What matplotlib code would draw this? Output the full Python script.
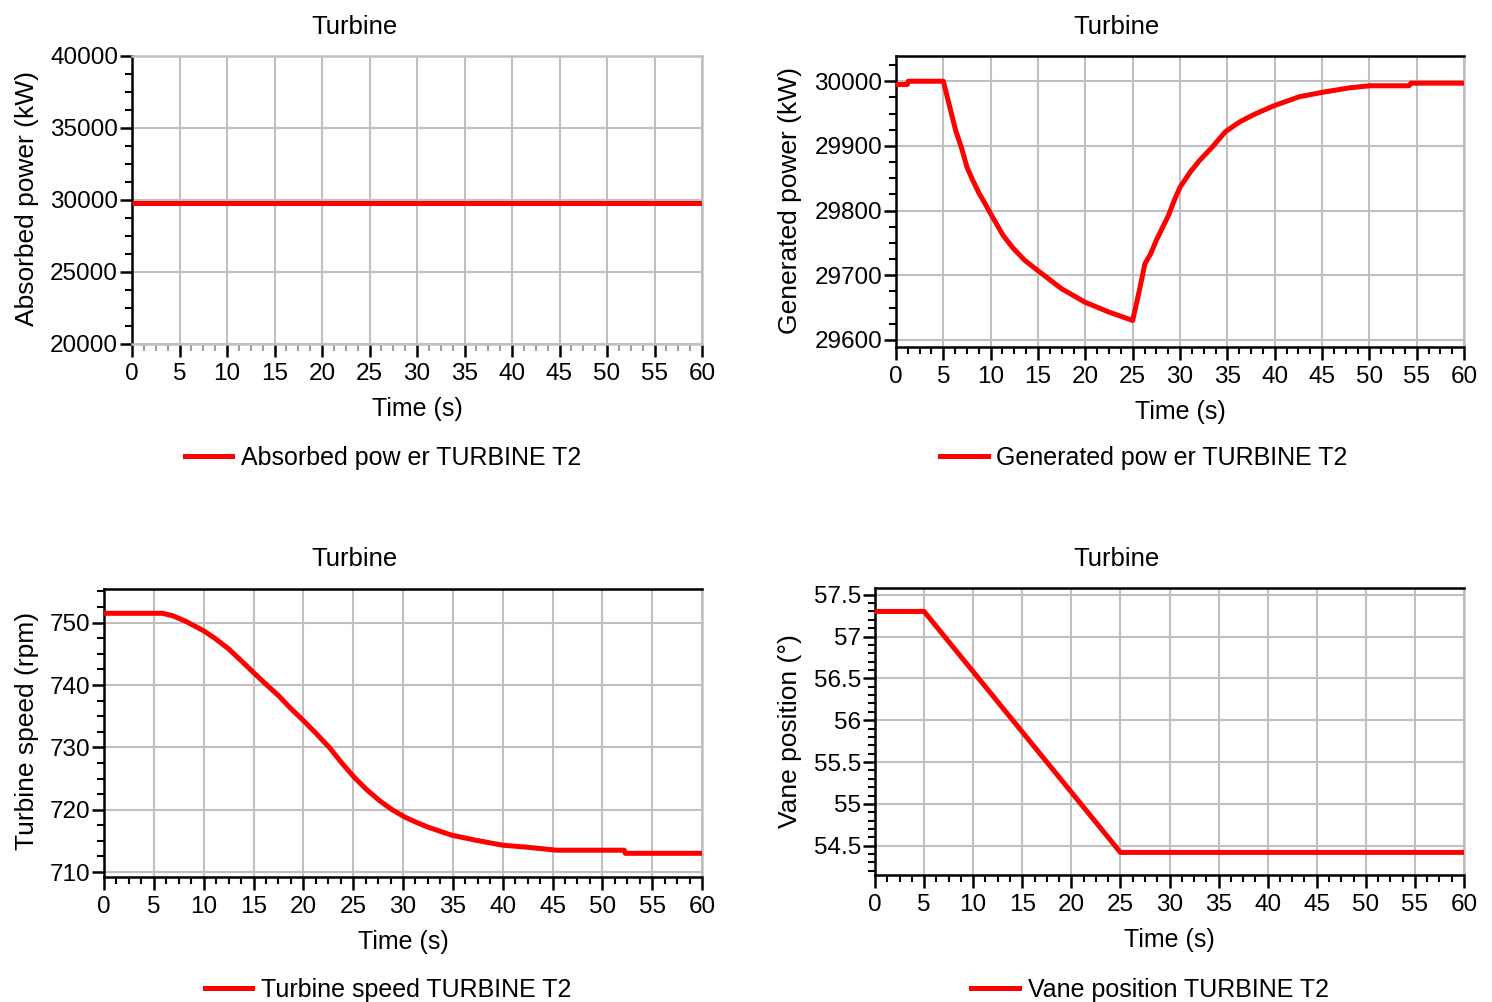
import matplotlib
matplotlib.use("Agg")
import matplotlib.pyplot as plt
from matplotlib.ticker import MultipleLocator, FixedLocator
from matplotlib.lines import Line2D

plt.rcParams['font.family'] = ['Liberation Sans', 'DejaVu Sans']

# ---------------- data ----------------
t_abs = [0, 60]
absorbed_kw = [29820, 29820]

t_gen = [0, 1.2, 1.3, 5.0, 5.6, 6.3, 6.9, 7.5, 8.1, 8.8, 9.4, 10.0, 11.3, 12.3, 13.6,
         15.0, 17.5, 20.0, 22.5, 25.0,
         25.7, 26.3, 26.9, 27.5, 28.2, 28.8, 29.4, 30.0, 31.1, 32.1, 33.4, 34.8, 36.3,
         37.6, 38.8, 40.1, 42.6, 45.1, 48.0, 50.1, 54.2, 54.4, 60]
generated_kw = [29995, 29995, 30000, 30000, 29965, 29924, 29898, 29867, 29847, 29826,
                29811, 29795, 29762, 29743, 29723, 29707, 29679, 29658, 29643, 29630,
                29676, 29718, 29733, 29754, 29775, 29793, 29816, 29836, 29860, 29878,
                29898, 29922, 29937, 29947, 29955, 29963, 29976, 29983, 29990, 29993,
                29993, 29997, 29997]

t_speed = [0, 5.9, 6.9, 8.1, 10.0, 11.2, 12.5, 13.7, 15.0, 16.2, 17.5, 18.7, 20.0,
           21.3, 22.6, 23.8, 25.1, 26.3, 27.6, 28.9, 30.2, 31.3, 32.5, 34.9, 37.3,
           40.0, 42.3, 45.4, 52.2, 52.3, 60]
speed_rpm = [751.5, 751.5, 751.1, 750.3, 748.7, 747.4, 745.8, 744.0, 742.0, 740.2,
             738.3, 736.3, 734.3, 732.2, 730.0, 727.6, 725.2, 723.3, 721.5, 720.0,
             718.8, 718.0, 717.2, 715.9, 715.1, 714.3, 714.0, 713.5, 713.5, 713.0,
             713.0]

t_vane = [0, 5.0, 25.0, 60]
vane_deg = [57.30, 57.30, 54.42, 54.42]

titles = ["Turbine", "Turbine", "Turbine", "Turbine"]
ylabels = ["Absorbed power (kW)", "Generated power (kW)",
           "Turbine speed (rpm)", "Vane position (\u00b0)"]
legend_labels = ["Absorbed pow er TURBINE T2", "Generated pow er TURBINE T2",
                 "Turbine speed TURBINE T2", "Vane position TURBINE T2"]
xticks = list(range(0, 61, 5))

# ---------------- layout ----------------
W, H = 1492, 1002
fig = plt.figure(figsize=(W / 100, H / 100), dpi=100)

def rect(l, t, r, b):
    return [l / W, 1 - b / H, (r - l) / W, (b - t) / H]

RED = '#ff0000'
GRID = '#c0c0c0'
FS_TICK = 17.5
FS_TITLE = 18.5
FS_YLAB = 19
FS_XLAB = 18
FS_LEG = 18

panels = [
    dict(rect=rect(132, 56, 702, 344), x=t_abs, y=absorbed_kw, ylim=(20000, 40000),
         major=5000, minor=1250, title=(355, 27), ylab=(27, 198),
         leg=(383, 458), gray_frame=True),
    dict(rect=rect(896, 56, 1464, 347), x=t_gen, y=generated_kw, ylim=(29589, 30039),
         major=100, minor=25, title=(1117, 27), ylab=(790, 200),
         leg=(1144, 458), gray_frame=False),
    dict(rect=rect(104, 589, 702, 877), x=t_speed, y=speed_rpm, ylim=(709.2, 755.4),
         major=10, minor=2.5, title=(355, 559), ylab=(27, 731),
         leg=(388, 990), gray_frame=False),
    dict(rect=rect(875, 588, 1464, 875), x=t_vane, y=vane_deg, ylim=(54.15, 57.58),
         major=0.5, minor=0.1, title=(1117, 559), ylab=(790, 731),
         leg=(1150, 990), gray_frame=False),
]

for i, p in enumerate(panels):
    ax = fig.add_axes(p['rect'])
    ax.plot(p['x'], p['y'], color=RED, lw=3.6, solid_capstyle='butt', zorder=3)
    ax.set_xlim(0, 60)
    ax.set_ylim(*p['ylim'])
    ax.xaxis.set_major_locator(FixedLocator(xticks))
    ax.xaxis.set_minor_locator(MultipleLocator(1.25))
    ax.yaxis.set_major_locator(MultipleLocator(p['major']))
    ax.yaxis.set_minor_locator(MultipleLocator(p['minor']))
    if p['major'] == 0.5:
        ax.yaxis.set_major_formatter(plt.FuncFormatter(lambda v, _: ('%g' % v)))
    else:
        ax.yaxis.set_major_formatter(plt.FuncFormatter(lambda v, _: ('%d' % round(v))))
    ax.grid(True, which='major', color=GRID, lw=1.5, zorder=1)
    ax.set_axisbelow(True)
    ax.tick_params(axis='both', which='major', length=9, width=1.8, color='black',
                   labelsize=FS_TICK, direction='out')
    ax.tick_params(axis='both', which='minor', length=5, width=1.5, color='black',
                   direction='out')
    ax.tick_params(axis='y', which='major', pad=1)
    ax.tick_params(axis='x', which='major', pad=5)
    for s in ax.spines.values():
        s.set_linewidth(1.8)
    ax.spines['left'].set_color('black')
    ax.spines['right'].set_color(GRID)
    if p['gray_frame']:
        ax.spines['top'].set_color(GRID)
        ax.spines['bottom'].set_color(GRID)
        ax.tick_params(axis='x', which='minor', color='#a0a0a0')
    else:
        ax.spines['top'].set_color('black')
        ax.spines['bottom'].set_color('black')
    ax.set_xlabel("Time (s)", fontsize=FS_XLAB, labelpad=8)
    fig.text(p['title'][0] / W, 1 - p['title'][1] / H, titles[i], fontsize=FS_TITLE,
             ha='center', va='center')
    fig.text(p['ylab'][0] / W, 1 - p['ylab'][1] / H, ylabels[i], fontsize=FS_YLAB,
             ha='center', va='center', rotation=90)
    h = Line2D([], [], color=RED, lw=3.6)
    fig.legend([h], [legend_labels[i]], loc='center',
               bbox_to_anchor=(p['leg'][0] / W, 1 - p['leg'][1] / H),
               frameon=False, fontsize=FS_LEG, handlelength=1.9, handletextpad=0.35,
               borderpad=0, borderaxespad=0)

fig.savefig("out.png", dpi=100)
